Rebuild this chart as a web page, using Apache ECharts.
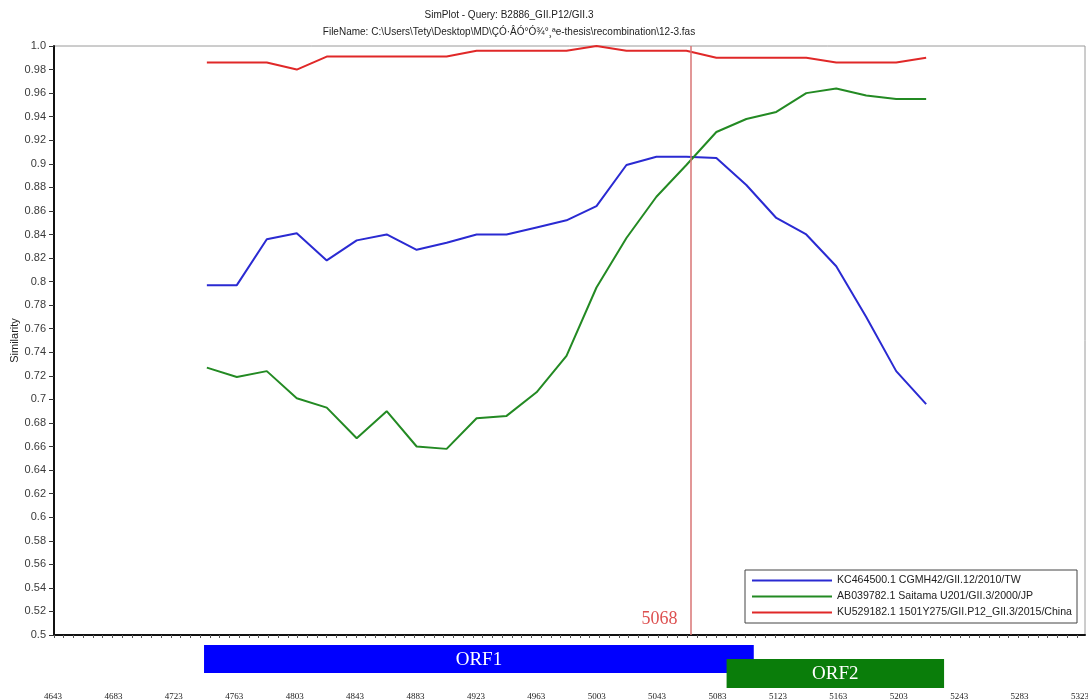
<!DOCTYPE html>
<html>
<head>
<meta charset="utf-8">
<script src="https://cdn.jsdelivr.net/npm/echarts@6/dist/echarts.min.js"></script>
<style>
  html, body { margin: 0; padding: 0; background: #ffffff; }
  #chart { width: 1088px; height: 700px; }
</style>
</head>
<body>
<div id="chart"></div>
<script>
// SimPlot similarity along the alignment (window centre positions, step 20 bp)
const positions = [4745, 4765, 4785, 4805, 4825, 4845, 4865, 4885, 4905, 4925,
                   4945, 4965, 4985, 5005, 5025, 5045, 5065, 5085, 5105, 5125,
                   5145, 5165, 5185, 5205, 5225];

const seriesNames = [
  'KC464500.1 CGMH42/GII.12/2010/TW',
  'AB039782.1 Saitama U201/GII.3/2000/JP',
  'KU529182.1 1501Y275/GII.P12_GII.3/2015/China'
];

const kc464500 = [0.797, 0.797, 0.836, 0.841, 0.818, 0.835, 0.840, 0.827, 0.833, 0.840,
                  0.840, 0.846, 0.852, 0.864, 0.899, 0.906, 0.906, 0.905, 0.882, 0.854,
                  0.840, 0.813, 0.770, 0.724, 0.696];

const ab039782 = [0.727, 0.719, 0.724, 0.701, 0.693, 0.667, 0.690, 0.660, 0.658, 0.684,
                  0.686, 0.706, 0.737, 0.795, 0.837, 0.872, 0.899, 0.927, 0.938, 0.944,
                  0.960, 0.964, 0.958, 0.955, 0.955];

const ku529182 = [0.986, 0.986, 0.986, 0.980, 0.991, 0.991, 0.991, 0.991, 0.991, 0.996,
                  0.996, 0.996, 0.996, 1.000, 0.996, 0.996, 0.996, 0.990, 0.990, 0.990,
                  0.990, 0.986, 0.986, 0.986, 0.990];

// Recombination breakpoint
const breakpoint = 5068;

// Open reading frames shown under the plot
const orfNames = ['ORF1', 'ORF2'];
const orfStart = [4743, 5089];
const orfEnd   = [5107, 5233];

// Genome position labels under the ORF map
const positionTicks = [4643, 4683, 4723, 4763, 4803, 4843, 4883, 4923, 4963,
                       5003, 5043, 5083, 5123, 5163, 5203, 5243, 5283, 5323];

const titleLines = [
  'SimPlot - Query: B2886_GII.P12/GII.3',
  'FileName: C:\\Users\\Tety\\Desktop\\MD\\ÇÓ·ÂÓ°Ó¾°¸ªe-thesis\\recombination\\12-3.fas'
];

// ---- styling ----
const lineColors = ['#2a2ad2', '#238a23', '#e02828'];
const orfColors = ['#0000ff', '#0a7d0a'];

// small minor ticks along the bottom of the plot
const minorTicks = [];
for (let v = 4643; v <= 5331; v += 6.5) minorTicks.push(v);

const chart = echarts.init(document.getElementById('chart'), null, { renderer: 'canvas' });

const lineData = [kc464500, ab039782, ku529182];

const option = {
  animation: false,
  backgroundColor: '#ffffff',
  textStyle: { fontFamily: '"Liberation Sans", Arial, sans-serif' },
  graphic: titleLines.map((t, i) => ({
    type: 'text',
    x: 509,
    y: 15 + i * 17,
    style: {
      text: t,
      align: 'center',
      verticalAlign: 'middle',
      fill: '#222',
      font: '10px "Liberation Sans", Arial, sans-serif'
    }
  })),
  legend: {
    data: seriesNames,
    orient: 'vertical',
    left: 745,
    top: 570,
    icon: 'rect',
    itemWidth: 80,
    itemHeight: 2,
    itemGap: 3,
    padding: [4, 5, 4, 7],
    backgroundColor: '#ffffff',
    borderColor: '#444',
    borderWidth: 1,
    borderRadius: 0,
    selectedMode: false,
    textStyle: { fontSize: 10.6, lineHeight: 13, color: '#222' }
  },
  grid: [
    {
      left: 54, right: 3, top: 46, bottom: 65,
      outerBoundsMode: 'none',
      containLabel: false,
      show: true, borderColor: '#9a9a9a', borderWidth: 1, backgroundColor: 'transparent'
    },
    { left: 53, right: 8, top: 645, height: 43, outerBoundsMode: 'none', containLabel: false }
  ],
  xAxis: [
    {
      gridIndex: 0,
      type: 'value',
      min: 4643,
      max: 5331,
      axisLine: { show: true, onZero: false, lineStyle: { color: '#111', width: 2 } },
      axisTick: { show: true, customValues: minorTicks, length: 3, lineStyle: { color: '#555', width: 1 } },
      axisLabel: { show: false },
      splitLine: { show: false }
    },
    {
      gridIndex: 1,
      type: 'value',
      min: 4643,
      max: 5323,
      axisLine: { show: false },
      axisTick: { show: false },
      axisLabel: {
        customValues: positionTicks,
        formatter: v => String(v),
        margin: 4,
        fontFamily: '"Liberation Serif", "Times New Roman", serif',
        fontSize: 9,
        color: '#222',
        showMinLabel: true,
        showMaxLabel: true
      },
      splitLine: { show: false }
    }
  ],
  yAxis: [
    {
      gridIndex: 0,
      type: 'value',
      min: 0.5,
      max: 1.0,
      interval: 0.02,
      name: 'Similarity',
      nameLocation: 'middle',
      nameGap: 34,
      nameMoveOverlap: false,
      nameTextStyle: { fontSize: 11, color: '#222' },
      axisLine: { show: true, onZero: false, lineStyle: { color: '#111', width: 2 } },
      axisTick: { show: true, length: 5, lineStyle: { color: '#333', width: 1 } },
      axisLabel: {
        margin: 8,
        fontSize: 11,
        color: '#3a3a3a',
        formatter: v => (v === 1 ? '1.0' : String(+v.toFixed(2)))
      },
      splitLine: { show: false }
    },
    {
      gridIndex: 1,
      type: 'value',
      min: 0,
      max: 1,
      show: false
    }
  ],
  series: [
    ...seriesNames.map((name, k) => ({
      name: name,
      type: 'line',
      xAxisIndex: 0,
      yAxisIndex: 0,
      data: positions.map((x, i) => [x, lineData[k][i]]),
      showSymbol: false,
      symbol: 'none',
      color: lineColors[k],
      lineStyle: { color: lineColors[k], width: 2 },
      z: 3
    })),
    {
      // breakpoint marker and its value label
      type: 'scatter',
      xAxisIndex: 0,
      yAxisIndex: 0,
      data: [[breakpoint, 0.5]],
      symbolSize: 1,
      itemStyle: { color: 'transparent' },
      label: {
        show: true,
        position: 'left',
        distance: 13,
        offset: [0, -16],
        formatter: () => String(breakpoint),
        fontFamily: '"Liberation Serif", "Times New Roman", serif',
        fontSize: 18,
        color: '#d42424'
      },
      markLine: {
        silent: true,
        symbol: 'none',
        label: { show: false },
        lineStyle: { color: '#d87474', width: 1.5, type: 'solid' },
        data: [{ xAxis: breakpoint }]
      },
      z: 2
    },
    {
      // ORF map
      type: 'custom',
      xAxisIndex: 1,
      yAxisIndex: 1,
      data: orfNames.map((n, i) => [orfStart[i], orfEnd[i], i]),
      renderItem: (params, api) => {
        const idx = api.value(2);
        const s = api.coord([api.value(0), 0]);
        const e = api.coord([api.value(1), 0]);
        const cs = params.coordSys;
        const h = idx === 0 ? 28 : 29;
        const top = idx === 0 ? cs.y : cs.y + cs.height - h;
        return {
          type: 'group',
          children: [
            {
              type: 'rect',
              shape: { x: s[0], y: top, width: e[0] - s[0], height: h },
              style: { fill: orfColors[idx] }
            },
            {
              type: 'text',
              style: {
                text: orfNames[idx],
                x: (s[0] + e[0]) / 2,
                y: top + h / 2 + 1,
                align: 'center',
                verticalAlign: 'middle',
                fill: '#ffffff',
                font: '19px "Liberation Serif", "Times New Roman", serif'
              }
            }
          ]
        };
      },
      z: 2
    }
  ]
};

chart.setOption(option);
</script>
</body>
</html>
